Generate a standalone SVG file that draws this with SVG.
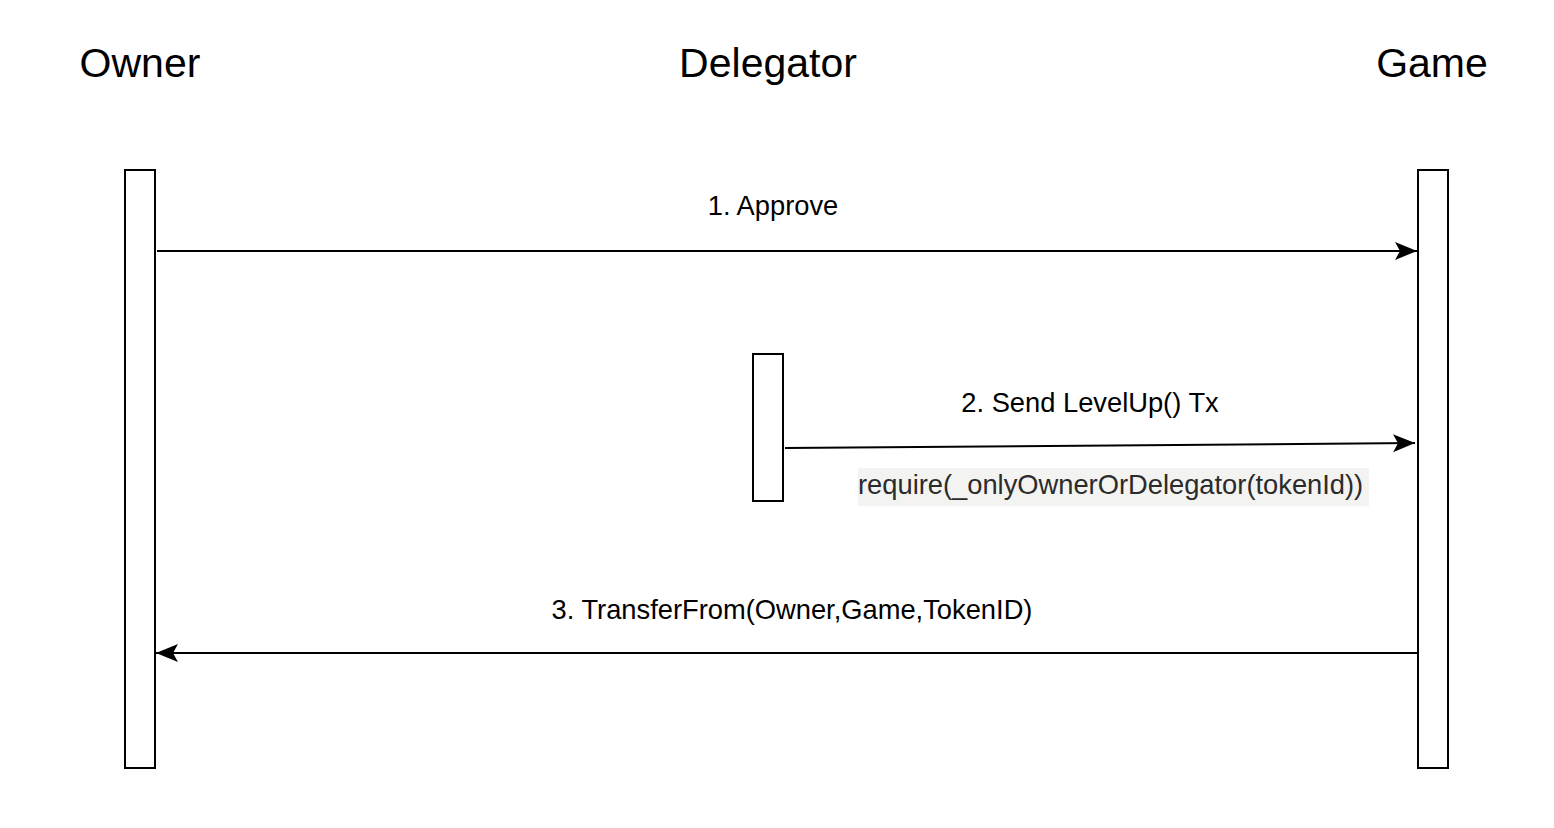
<svg xmlns="http://www.w3.org/2000/svg" width="1554" height="828" viewBox="0 0 1554 828">
<style>
.box{fill:#fff;stroke:#000;stroke-width:2}
.title{font-family:"Liberation Sans",Arial,sans-serif;font-size:41px;fill:#000;text-anchor:middle}
.lbl{font-family:"Liberation Sans",Arial,sans-serif;font-size:27.3px;fill:#000;text-anchor:middle}
.note{font-family:"Liberation Sans",Arial,sans-serif;font-size:27.3px;fill:#2b2b2b}
.edge{stroke:#000;stroke-width:2;fill:none}
</style>
<defs>
<marker id="arr" markerUnits="userSpaceOnUse" markerWidth="24" markerHeight="20" viewBox="0 0 24 20" refX="22" refY="10" orient="auto">
<path d="M0,1 L22,10 L0,19 L5,10 Z" fill="#000"/>
</marker>
</defs>
<rect width="1554" height="828" fill="#fff"/>
<g id="owner">
<text class="title" x="140" y="77">Owner</text>
<rect class="box" x="125" y="170" width="30" height="598"/>
</g>
<g id="delegator">
<text class="title" x="768" y="77">Delegator</text>
<rect class="box" x="753" y="354" width="30" height="147"/>
</g>
<g id="game">
<text class="title" x="1432" y="77">Game</text>
<rect class="box" x="1418" y="170" width="30" height="598"/>
</g>
<g id="connectors">
<line class="edge" x1="157" y1="251" x2="1417" y2="251" marker-end="url(#arr)"/>
<text class="lbl" x="773" y="215">1. Approve</text>
<line class="edge" x1="785" y1="448" x2="1415" y2="443" marker-end="url(#arr)"/>
<text class="lbl" x="1090" y="412">2. Send LevelUp() Tx</text>
<rect x="858" y="468" width="511" height="38" fill="#f3f4f2"/>
<text class="note" x="858" y="494">require(_onlyOwnerOrDelegator(tokenId))</text>
<line class="edge" x1="1418" y1="653" x2="156" y2="653" marker-end="url(#arr)"/>
<text class="lbl" x="792" y="619">3. TransferFrom(Owner,Game,TokenID)</text>
</g>
</svg>
